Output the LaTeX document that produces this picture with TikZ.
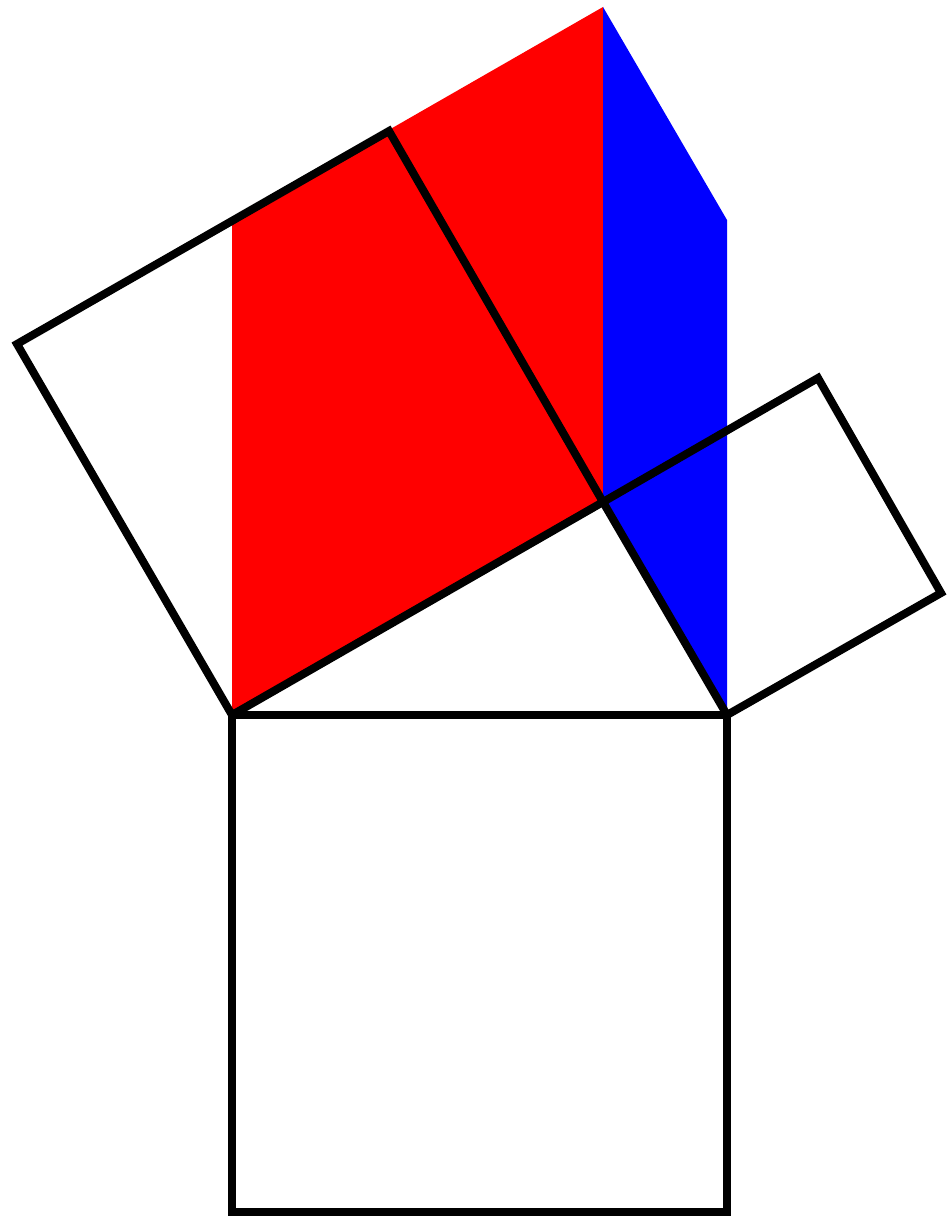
\documentclass[tikz,border=0pt]{standalone}
\begin{document}
\begin{tikzpicture}[x=1pt,y=-1pt,
  edge/.style={draw=black,line width=8pt,line join=miter},
  redfill/.style={fill={rgb,255:red,255;green,0;blue,0}},
  bluefill/.style={fill={rgb,255:red,0;green,0;blue,255}}]
\useasboundingbox (0,0) rectangle (952,1217);
\coordinate (A) at (232,715);
\coordinate (B) at (727,715);
\coordinate (C) at (603,502);
\coordinate (D) at (389,131);
\coordinate (E) at (17,344);
\coordinate (F) at (941,593);
\coordinate (G) at (818,378);
\coordinate (P) at (232,1212);
\coordinate (Q) at (727,1212);
\coordinate (RA) at (232,220);
\coordinate (T) at (603,7);
\coordinate (RB) at (727,220);
% sheared parallelograms
\fill[redfill] (A) -- (RA) -- (T) -- (C) -- cycle;
\fill[bluefill] (C) -- (T) -- (RB) -- (B) -- cycle;
% squares
\draw[edge] (A) -- (B) -- (Q) -- (P) -- cycle;
\draw[edge] (A) -- (C) -- (D) -- (E) -- cycle;
\draw[edge] (C) -- (B) -- (F) -- (G) -- cycle;
\end{tikzpicture}
\end{document}
